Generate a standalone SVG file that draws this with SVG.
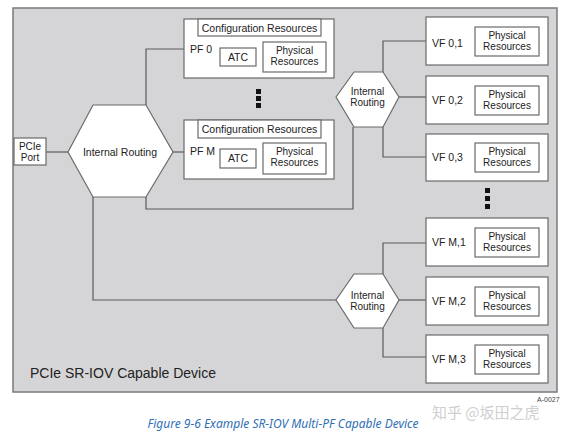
<svg xmlns="http://www.w3.org/2000/svg" width="566" height="434" viewBox="0 0 566 434">
<style>
.box{fill:#fff;stroke:#6a6a6a;stroke-width:1.2}
.hex{fill:#fff;stroke:#6a6a6a;stroke-width:1.2}
.ln{fill:none;stroke:#5a5a5a;stroke-width:1.2}
text{font-family:"Liberation Sans",Arial,sans-serif;fill:#222;font-size:10.5px}
.c{text-anchor:middle}
.p{font-size:10px}
.dot{fill:#111}
</style>
<rect width="566" height="434" fill="#fff"/>
<g id="device">
<rect x="13" y="8" width="544" height="384" fill="#d5d5d7" stroke="#7a7a7a" stroke-width="1.5"/>
<text x="30" y="378" style="font-size:14px">PCIe SR-IOV Capable Device</text>
</g>
<g id="connectors">
<path class="ln" d="M46 152H68"/>
<path class="ln" d="M146 105V49H184"/>
<path class="ln" d="M173 152H184"/>
<path class="ln" d="M146 197V209H353V127"/>
<path class="ln" d="M383 72V41H426"/>
<path class="ln" d="M399 97H426"/>
<path class="ln" d="M383 127V157H426"/>
<path class="ln" d="M93 197V300H336"/>
<path class="ln" d="M383 274V243H426"/>
<path class="ln" d="M399 300H426"/>
<path class="ln" d="M383 328V357H426"/>
</g>
<g id="pcie-port">
<rect class="box" x="14" y="138" width="32" height="27"/>
<text class="c p" x="30" y="150">PCIe</text>
<text class="c p" x="30" y="161">Port</text>
</g>
<g id="internal-routing-main">
<polygon class="hex" points="68,152 93,105 146,105 173,152 146,197 93,197"/>
<text class="c" x="120" y="156">Internal Routing</text>
</g>
<g id="pf0">
<rect class="box" x="184" y="19" width="150" height="59"/>
<rect class="box" x="198" y="19" width="123" height="17"/>
<text class="c" x="259.5" y="32">Configuration Resources</text>
<text x="190" y="53">PF 0</text>
<rect class="box" x="220" y="48" width="36" height="18"/>
<text class="c" x="238" y="61">ATC</text>
<rect class="box" x="263" y="42" width="63" height="30"/>
<text class="c p" x="294.5" y="54">Physical</text>
<text class="c p" x="294.5" y="65">Resources</text>
</g>
<g id="pf-dots">
<rect class="dot" x="256" y="89" width="5" height="5"/>
<rect class="dot" x="256" y="96" width="5" height="5"/>
<rect class="dot" x="256" y="103" width="5" height="5"/>
</g>
<g id="pfm">
<rect class="box" x="184" y="120" width="150" height="59"/>
<rect class="box" x="198" y="120" width="123" height="18"/>
<text class="c" x="259.5" y="133">Configuration Resources</text>
<text x="190" y="155">PF M</text>
<rect class="box" x="220" y="149" width="36" height="19"/>
<text class="c" x="238" y="162">ATC</text>
<rect class="box" x="263" y="143" width="63" height="31"/>
<text class="c p" x="294.5" y="155">Physical</text>
<text class="c p" x="294.5" y="166">Resources</text>
</g>
<g id="internal-routing-0">
<polygon class="hex" points="336,97 354,72 383,72 399,97 383,127 354,127"/>
<text class="c p" x="367.5" y="95">Internal</text>
<text class="c p" x="367.5" y="106">Routing</text>
</g>
<g id="internal-routing-m">
<polygon class="hex" points="336,300 354,274 383,274 399,300 383,328 354,328"/>
<text class="c p" x="367.5" y="299">Internal</text>
<text class="c p" x="367.5" y="310">Routing</text>
</g>
<g id="vf01">
<rect class="box" x="426" y="17" width="122" height="48"/>
<text x="432" y="47">VF 0,1</text>
<rect class="box" x="475" y="27" width="64" height="29"/>
<text class="c p" x="507" y="39">Physical</text>
<text class="c p" x="507" y="50">Resources</text>
</g>
<g id="vf02">
<rect class="box" x="426" y="76" width="122" height="48"/>
<text x="432" y="104">VF 0,2</text>
<rect class="box" x="475" y="86" width="64" height="29"/>
<text class="c p" x="507" y="98">Physical</text>
<text class="c p" x="507" y="109">Resources</text>
</g>
<g id="vf03">
<rect class="box" x="426" y="134" width="122" height="47"/>
<text x="432" y="161">VF 0,3</text>
<rect class="box" x="475" y="143" width="64" height="29"/>
<text class="c p" x="507" y="155">Physical</text>
<text class="c p" x="507" y="166">Resources</text>
</g>
<g id="vf-dots">
<rect class="dot" x="485" y="188" width="5" height="5"/>
<rect class="dot" x="485" y="196" width="5" height="5"/>
<rect class="dot" x="485" y="204" width="5" height="5"/>
</g>
<g id="vfm1">
<rect class="box" x="426" y="218" width="122" height="48"/>
<text x="432" y="246">VF M,1</text>
<rect class="box" x="475" y="228" width="64" height="29"/>
<text class="c p" x="507" y="240">Physical</text>
<text class="c p" x="507" y="251">Resources</text>
</g>
<g id="vfm2">
<rect class="box" x="426" y="277" width="122" height="48"/>
<text x="432" y="305">VF M,2</text>
<rect class="box" x="475" y="287" width="64" height="29"/>
<text class="c p" x="507" y="299">Physical</text>
<text class="c p" x="507" y="310">Resources</text>
</g>
<g id="vfm3">
<rect class="box" x="426" y="335" width="122" height="48"/>
<text x="432" y="363">VF M,3</text>
<rect class="box" x="475" y="345" width="64" height="29"/>
<text class="c p" x="507" y="357">Physical</text>
<text class="c p" x="507" y="368">Resources</text>
</g>
<g id="caption">
<text x="537" y="402" style="font-size:7px;fill:#444">A-0027</text>
<text x="432" y="418" style="font-family:'Noto Sans CJK SC','Noto Sans',sans-serif;font-size:15px;fill:#cfcfcf">知乎 @坂田之虎</text>
<text class="c" x="283" y="428" style="font-family:'Noto Sans','Open Sans',sans-serif;font-style:italic;font-size:12px;fill:#2f6fb3">Figure  9-6  Example SR-IOV Multi-PF Capable Device</text>
</g>
</svg>
